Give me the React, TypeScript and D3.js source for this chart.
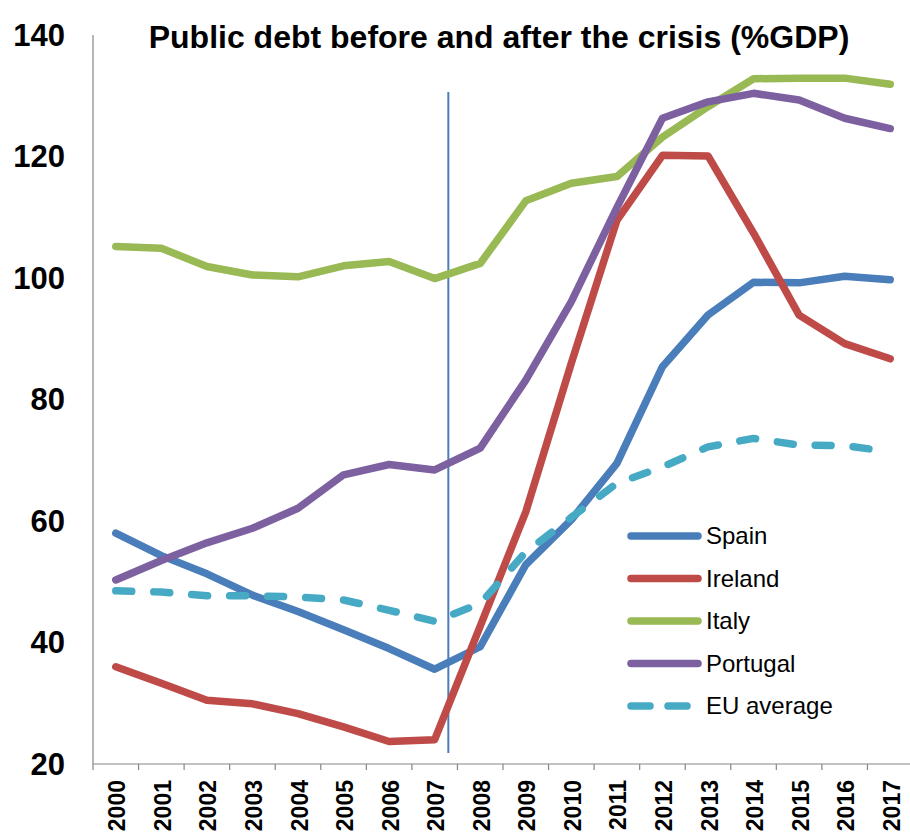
import React from "react";
import * as d3 from "d3";

const years = ["2000","2001","2002","2003","2004","2005","2006","2007","2008","2009","2010","2011","2012","2013","2014","2015","2016","2017"];
const spain = [58.0, 54.3, 51.3, 47.8, 45.1, 42.1, 39.0, 35.6, 39.3, 52.8, 60.2, 69.5, 85.4, 93.9, 99.3, 99.2, 100.3, 99.7];
const ireland = [36.0, 33.3, 30.5, 29.9, 28.3, 26.1, 23.7, 24.0, 42.7, 61.5, 86.0, 109.5, 120.2, 120.1, 107.4, 93.9, 89.2, 86.7];
const italy = [105.2, 104.9, 101.9, 100.5, 100.2, 102.0, 102.7, 99.9, 102.4, 112.7, 115.6, 116.7, 123.2, 128.2, 132.8, 132.9, 132.9, 131.9];
const portugal = [50.3, 53.5, 56.4, 58.8, 62.1, 67.6, 69.3, 68.4, 72.0, 83.2, 96.1, 111.6, 126.3, 129.0, 130.4, 129.3, 126.3, 124.6];
const euAverage = [48.5, 48.3, 47.7, 47.7, 47.5, 47.0, 45.3, 43.5, 46.4, 54.9, 60.6, 66.2, 68.9, 72.2, 73.6, 72.5, 72.4, 71.4];
const yTicks = [20, 40, 60, 80, 100, 120, 140];
const seriesNames = ["Spain", "Ireland", "Italy", "Portugal", "EU average"];
const seriesColors = ["#4A7EBB", "#BE4B48", "#98B954", "#7D60A0", "#46AAC5"];
const seriesData = [spain, ireland, italy, portugal, euAverage];
const title = "Public debt before and after the crisis (%GDP)";

const FONT = "'Liberation Sans', Arial, Helvetica, sans-serif";

export default function App() {
  const W = 910, H = 834;
  const x = d3.scaleBand<string>().domain(years).range([93, 913]).padding(0);
  const y = d3.scaleLinear().domain([20, 140]).range([764, 35]);
  const cx = (i: number) => (x(years[i]) as number) + x.bandwidth() / 2;
  const line = d3.line<number>().x((_, i) => cx(i)).y((d) => y(d));
  const boundaries = years.map((yr) => x(yr) as number).concat([x.range()[1]]);
  const crisisX = (x("2007") as number) + x.bandwidth() * 0.8;

  return (
    <svg width={W} height={H} style={{ position: "absolute", left: 0, top: 0, background: "#fff" }} fontFamily={FONT}>
      <rect x={0} y={0} width={W} height={H} fill="#fff" />
      <text x={499} y={48} textAnchor="middle" fontSize={32} fontWeight="bold" fill="#000">{title}</text>

      {/* y axis */}
      <line x1={93} x2={93} y1={y(140)} y2={y(20)} stroke="#868686" strokeWidth={1.2} />
      {yTicks.map((t) => (
        <text key={t} x={65} y={y(t)} dy="0.35em" textAnchor="end" fontSize={31} fontWeight="bold" fill="#000">{t}</text>
      ))}

      {/* x axis */}
      <line x1={93} x2={W} y1={y(20)} y2={y(20)} stroke="#868686" strokeWidth={1.2} />
      {boundaries.map((b, i) => (
        <line key={i} x1={b} x2={b} y1={y(20)} y2={y(20) + 6} stroke="#868686" strokeWidth={1.2} />
      ))}
      {years.map((yr, i) => (
        <text key={yr} transform={`translate(${cx(i) + 9.5},780) rotate(-90)`} textAnchor="end" fontSize={23} fontWeight="bold" fill="#000">{yr}</text>
      ))}

      {/* crisis line */}
      <line x1={crisisX} x2={crisisX} y1={92} y2={753} stroke="#4A7EBB" strokeWidth={2} />

      {/* series */}
      {seriesData.map((data, k) => (
        <path key={seriesNames[k]} d={line(data) || ""} fill="none" stroke={seriesColors[k]} strokeWidth={7.5}
          strokeLinejoin="round" strokeLinecap="round" strokeDasharray={k === 4 ? "16,22" : undefined} />
      ))}

      {/* legend */}
      {seriesNames.map((n, k) => {
        const ly = 536 + k * 42.5;
        return (
          <g key={n}>
            <line x1={631} x2={698} y1={ly} y2={ly} stroke={seriesColors[k]} strokeWidth={7.5} strokeLinecap="round"
              strokeDasharray={k === 4 ? "19,18" : undefined} />
            <text x={706} y={ly} dy="0.35em" fontSize={24} fill="#000">{n}</text>
          </g>
        );
      })}
    </svg>
  );
}
